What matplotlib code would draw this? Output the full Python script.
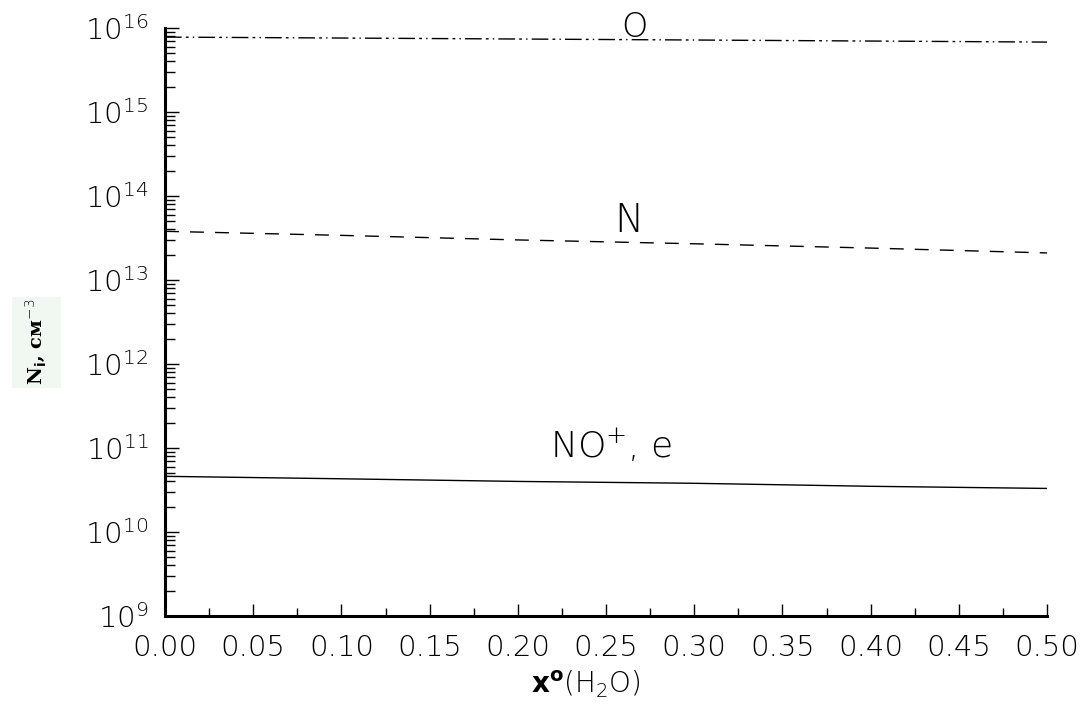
import numpy as np
import matplotlib
matplotlib.use('Agg')
import matplotlib.pyplot as plt
from matplotlib.patches import Rectangle
from matplotlib.ticker import LogLocator, FixedLocator, MultipleLocator, NullFormatter

# ─── Data ────────────────────────────────────────────────────────────────────
x_h2o   = [0.00, 0.10, 0.20, 0.30, 0.40, 0.50]
n_O     = [7.8e15, 7.6e15, 7.4e15, 7.2e15, 7.0e15, 6.8e15]
n_N     = [3.8e13, 3.4e13, 3.0e13, 2.7e13, 2.4e13, 2.1e13]
n_NOp_e = [4.6e10, 4.3e10, 4.0e10, 3.8e10, 3.5e10, 3.3e10]

x_ticks = [0.00, 0.05, 0.10, 0.15, 0.20, 0.25, 0.30, 0.35, 0.40, 0.45, 0.50]
y_decades = [9, 10, 11, 12, 13, 14, 15, 16]

plt.rcParams['font.family'] = 'DejaVu Sans'
plt.rcParams['font.weight'] = 'light'
plt.rcParams['mathtext.fontset'] = 'custom'
plt.rcParams['mathtext.rm'] = 'DejaVu Sans:light'
plt.rcParams['mathtext.bf'] = 'DejaVu Sans:bold'

# ─── Plot ────────────────────────────────────────────────────────────────────
fig = plt.figure(figsize=(10.9, 7.06), dpi=100)
ax = fig.add_axes([0.1514, 0.1275, 0.8092, 0.8328])

ax.plot(x_h2o, n_O, color='black', lw=1.0, dashes=(12, 3, 2, 3, 1, 3))
ax.plot(x_h2o, n_N, color='black', lw=1.0, dashes=(10, 8))
ax.plot(x_h2o, n_NOp_e, color='black', lw=1.0)

ax.set_yscale('log')
ax.set_xlim(0, 0.5)
ax.set_ylim(1e9, 1e16)

ax.xaxis.set_major_locator(FixedLocator(x_ticks))
ax.xaxis.set_minor_locator(MultipleLocator(0.025))
ax.set_xticklabels([f'{v:.2f}' for v in x_ticks])

ax.yaxis.set_major_locator(FixedLocator([10.0**d for d in y_decades]))
ax.yaxis.set_minor_locator(LogLocator(base=10, subs=np.arange(2, 10), numticks=20))
ax.yaxis.set_minor_formatter(NullFormatter())
ax.set_yticklabels([f'$10^{{{d}}}$' for d in y_decades])

for s in ['top', 'right']:
    ax.spines[s].set_visible(False)
for s in ['left', 'bottom']:
    ax.spines[s].set_linewidth(2.2)

ax.tick_params(axis='both', which='both', direction='in', width=1.0, colors='black')
ax.tick_params(axis='x', which='major', length=9, labelsize=21, pad=13)
ax.tick_params(axis='x', which='minor', length=6)
ax.tick_params(axis='y', which='major', length=10, labelsize=21, pad=12)
ax.tick_params(axis='y', which='minor', length=7)

# Curve labels
ax.text(0.266, 7.8e15, 'O', fontsize=24, ha='center', va='baseline')
ax.text(0.263, 3.7e13, 'N', fontsize=28, ha='center', va='baseline')
ax.text(0.253, 7.6e10, 'NO$^{+}$, e', fontsize=26, ha='center', va='baseline')

# Axis titles
fig.add_artist(Rectangle((0.011, 0.4504), 0.045, 0.129, transform=fig.transFigure,
                         facecolor='#f1f7f1', edgecolor='none', zorder=0))
fig.text(0.033, 0.5156, r'N$_\mathbf{i}$, см$^{-3}$', rotation=90, ha='center', va='center',
         fontsize=14, family='DejaVu Serif', fontweight='bold')
fig.text(0.537, 0.030, r'$\mathbf{x^o}$(H$_2$O)', ha='center', va='center', fontsize=20)

fig.savefig('out.png', dpi=100)
plt.close()
